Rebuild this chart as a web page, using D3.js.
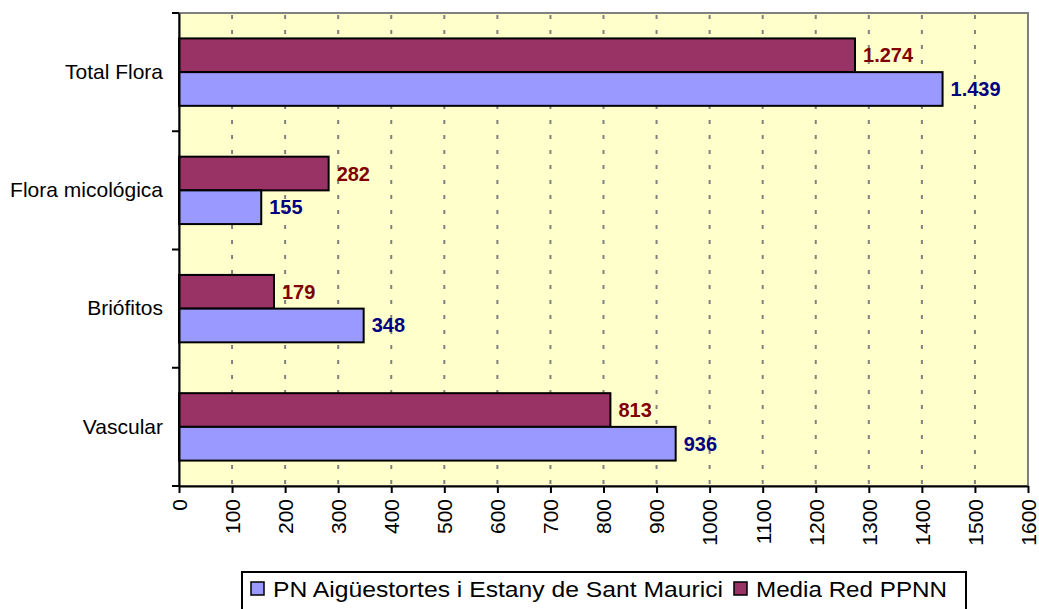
<!DOCTYPE html>
<html>
<head>
<meta charset="utf-8">
<script src="https://cdn.jsdelivr.net/npm/d3@7"></script>
<style>
  body { margin: 0; background: #fff; }
  svg { display: block; font-family: "Liberation Sans", Arial, sans-serif; }
  .cat-label { font-size: 21px; fill: #000; }
  .tick-label { font-size: 21px; fill: #000; }
  .value { font-size: 20px; font-weight: bold; }
  .legend-text { font-size: 22px; fill: #000; }
</style>
</head>
<body>
<svg class="chart" width="1039" height="609"></svg>
<script>
const categories = ['Total Flora', 'Flora micológica', 'Briófitos', 'Vascular']
const seriesNames = ['Media Red PPNN', 'PN Aigüestortes i Estany de Sant Maurici']
const mediaRed = [1274, 282, 179, 813]
const parque = [1439, 155, 348, 936]
const xTicks = d3.range(0, 1601, 100)

const colors = { media: '#993366', parque: '#9999FF' }
const labelColors = { media: '#800000', parque: '#000080' }

const margin = { top: 13, right: 11, bottom: 123, left: 179 }
const w = 1039
const h = 609
const width = w - margin.left - margin.right
const height = h - margin.top - margin.bottom

const svg = d3.select('.chart')
const g = svg.append('g').attr('transform', `translate(${margin.left},${margin.top})`)

const x = d3.scaleLinear().domain([0, 1600]).range([0, width])
const y = d3.scaleBand().domain(categories).range([0, height]).paddingInner(0.43).paddingOuter(0.215)
const sub = d3.scaleBand().domain(['media', 'parque']).range([0, y.bandwidth()])

// plot area
g.append('rect')
  .attr('width', width)
  .attr('height', height)
  .attr('fill', '#FFFFCC')
  .attr('stroke', '#808080')
  .attr('stroke-width', 2)

// dashed grid
g.append('g')
  .selectAll('line')
  .data(xTicks.slice(1, -1))
  .join('line')
  .attr('x1', d => x(d))
  .attr('x2', d => x(d))
  .attr('y1', 0)
  .attr('y2', height)
  .attr('stroke', '#808080')
  .attr('stroke-width', 2)
  .attr('stroke-dasharray', '4,11')
  .attr('stroke-dashoffset', -2)

const rows = categories.map((c, i) => ({ cat: c, media: mediaRed[i], parque: parque[i] }))

const row = g.append('g').selectAll('g').data(rows).join('g')
  .attr('transform', d => `translate(0,${y(d.cat)})`)

;['media', 'parque'].forEach(k => {
  row.append('rect')
    .attr('x', 0)
    .attr('y', sub(k))
    .attr('width', d => x(d[k]))
    .attr('height', sub.bandwidth())
    .attr('fill', colors[k])
    .attr('stroke', '#000')
    .attr('stroke-width', 2)

  row.append('text')
    .attr('class', 'value')
    .attr('x', d => x(d[k]) + 8)
    .attr('y', sub(k) + sub.bandwidth() / 2)
    .attr('dy', '0.35em')
    .attr('fill', labelColors[k])
    .text(d => d3.format(',')(d[k]).replace(/,/g, '.'))
})

// y axis
const axisY = d3.axisLeft(y).tickSize(0).tickPadding(16)
const gy = g.append('g').call(axisY)
gy.select('.domain').attr('stroke', '#000').attr('stroke-width', 2)
gy.selectAll('text').attr('class', 'cat-label').attr('font-size', null).attr('font-family', null)

// y category separators
const sep = [0].concat(categories.map(c => y(c) + y.bandwidth() + y.step() * y.paddingInner() / 2))
sep[sep.length - 1] = height
g.append('g').selectAll('line').data(sep).join('line')
  .attr('x1', -7).attr('x2', 0)
  .attr('y1', d => d).attr('y2', d => d)
  .attr('stroke', '#000').attr('stroke-width', 2)

// x axis
const axisX = d3.axisBottom(x).tickValues(xTicks).tickFormat(d3.format('d'))
  .tickSize(7).tickPadding(6).tickSizeOuter(0)
const gx = g.append('g').attr('transform', `translate(0,${height})`).call(axisX)
gx.select('.domain').attr('stroke', '#000').attr('stroke-width', 2)
gx.selectAll('line').attr('stroke', '#000').attr('stroke-width', 2)
gx.selectAll('text')
  .attr('class', 'tick-label')
  .attr('font-size', null).attr('font-family', null)
  .attr('transform', 'rotate(-90)')
  .attr('text-anchor', 'end')
  .attr('x', -13)
  .attr('y', 0)
  .attr('dy', '0.35em')

// legend
const legend = svg.append('g').attr('transform', 'translate(242,572)')
legend.append('rect')
  .attr('width', 724).attr('height', 50)
  .attr('fill', '#fff').attr('stroke', '#000').attr('stroke-width', 2)

const legendItems = [
  { name: seriesNames[1], color: colors.parque, x: 9, len: 450 },
  { name: seriesNames[0], color: colors.media, x: 492, len: 191 }
]
const li = legend.selectAll('.li').data(legendItems).join('g')
  .attr('transform', d => `translate(${d.x},10)`)
li.append('rect').attr('width', 13).attr('height', 13)
  .attr('fill', d => d.color).attr('stroke', '#000').attr('stroke-width', 1.5)
li.append('text').attr('class', 'legend-text')
  .attr('x', 22).attr('y', 7).attr('dy', '0.35em')
  .attr('textLength', d => d.len)
  .attr('lengthAdjust', 'spacingAndGlyphs')
  .text(d => d.name)
</script>
</body>
</html>
